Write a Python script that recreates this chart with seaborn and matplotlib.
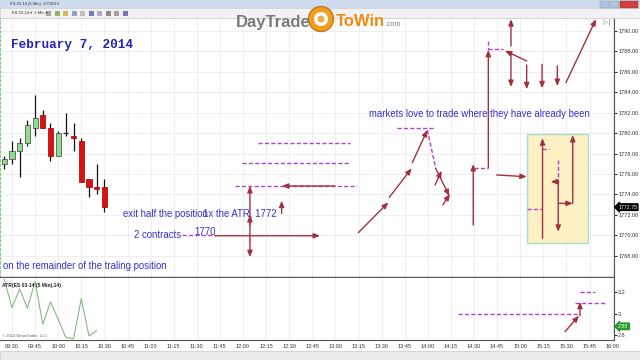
import matplotlib
matplotlib.use("Agg")
import matplotlib.pyplot as plt
import seaborn as sns
import pandas as pd
import numpy as np
from matplotlib.patches import Rectangle, Circle

# ---------------- data ----------------
bar_times = ["09:25", "09:30", "09:35", "09:40", "09:45", "09:50", "09:55",
             "10:00", "10:05", "10:10", "10:15", "10:20", "10:25", "10:30"]
opens  = [1777.0, 1777.5, 1778.25, 1779.0, 1780.5, 1781.75, 1780.5,
          1777.75, 1780.0, 1779.75, 1779.25, 1775.5, 1774.75, 1774.75]
highs  = [1777.75, 1779.25, 1779.5, 1781.25, 1783.75, 1782.25, 1781.0,
          1780.25, 1782.0, 1781.0, 1779.5, 1775.5, 1777.0, 1775.5]
lows   = [1776.5, 1777.0, 1775.75, 1778.75, 1779.75, 1780.5, 1777.25,
          1777.75, 1779.75, 1778.25, 1775.25, 1773.75, 1774.0, 1772.25]
closes = [1777.5, 1778.25, 1779.0, 1780.75, 1781.5, 1780.5, 1777.75,
          1780.0, 1780.0, 1779.5, 1775.25, 1774.75, 1774.5, 1772.75]

atr_times = bar_times[:13]
atr_values = [3.32, 3.055, 3.23, 3.05, 3.30, 2.90, 3.11, 2.945, 2.775, 2.765, 3.14, 2.79, 2.84]
atr_last = 2.88
last_price = 1772.75

time_labels = ["09:30", "09:45", "10:00", "10:15", "10:30", "10:45", "11:00", "11:15",
               "11:30", "11:45", "12:00", "12:15", "12:30", "12:45", "13:00", "13:15",
               "13:30", "13:45", "14:00", "14:15", "14:30", "14:45", "15:00", "15:15",
               "15:30", "15:45", "16:00"]
price_ticks = [1768, 1770, 1772, 1774, 1776, 1778, 1780, 1782, 1784, 1786, 1788, 1790]
atr_ticks = [2.8, 3.0, 3.2]

# annotation drawings (minutes after 09:30, price)
dash_lines = [  # (t1, p1, t2, p2)
    (159.9, 1779.0, 219.5, 1779.0),
    (149.5, 1777.1, 219.5, 1777.1),
    (144.8, 1774.8, 224.0, 1774.8),
    (110.2, 1770.0, 131.8, 1770.0),
    (249.8, 1780.5, 274.2, 1780.5),
    (269.7, 1780.3, 275.3, 1776.45),
    (300.0, 1776.6, 309.3, 1776.6),
    (309.3, 1789.05, 309.3, 1788.15),
    (309.1, 1788.24, 319.0, 1788.24),
    (334.2, 1772.57, 344.2, 1772.57),
    (344.2, 1778.44, 348.9, 1778.44),
    (354.7, 1777.37, 354.7, 1775.24),
]
arrows = [  # (t_from, p_from, t_to, p_to)
    (154.5, 1769.5, 154.5, 1774.82),
    (154.5, 1769.5, 154.5, 1767.86),
    (154.5, 1771.0, 154.5, 1771.98),
    (209.7, 1774.82, 175.3, 1774.82),
    (175.1, 1772.14, 175.1, 1773.38),
    (131.8, 1769.95, 200.0, 1769.95),
    (224.9, 1770.25, 244.4, 1773.22),
    (245.0, 1773.71, 259.5, 1776.55),
    (259.9, 1777.1, 269.7, 1780.3),
    (275.3, 1776.48, 284.0, 1773.84),
    (274.7, 1774.92, 279.0, 1776.32),
    (279.7, 1772.96, 284.4, 1774.04),
    (299.5, 1771.0, 299.5, 1776.97),
    (309.3, 1776.61, 309.3, 1788.14),
    (334.2, 1787.06, 320.1, 1788.07),
    (324.0, 1788.53, 324.0, 1791.15),
    (324.0, 1787.75, 324.0, 1784.52),
    (334.2, 1786.67, 334.2, 1784.29),
    (344.2, 1786.74, 344.2, 1784.39),
    (354.1, 1786.57, 354.1, 1784.61),
    (359.7, 1784.94, 379.2, 1791.15),
    (314.7, 1775.9, 334.2, 1775.73),
    (344.5, 1769.7, 344.5, 1779.49),
    (354.7, 1775.24, 349.8, 1775.24),
    (354.7, 1775.24, 354.7, 1770.34),
    (354.7, 1773.12, 364.1, 1773.12),
    (364.1, 1773.12, 364.1, 1779.81),
]
box = (334.2, 1769.21, 374.2, 1779.88)

atr_dash_lines = [
    (289.6, 3.0, 368.8, 3.0),
    (365.6, 3.10, 385.1, 3.10),
    (368.8, 3.20, 378.6, 3.20),
]
atr_arrows = [
    (359.1, 2.83, 368.2, 2.98),
    (368.8, 2.98, 368.8, 3.11),
]

texts = [  # (t, price, string)
    (72.1, 1772.08, "exit half the position"),
    (124.0, 1772.08, "1x the ATR, 1772"),
    (79.2, 1770.07, "2 contracts"),
    (118.2, 1770.27, "1770"),
    (-5.8, 1766.98, "on the remainder of the traling position"),
    (231.8, 1781.87, "markets love to trade where they have already been"),
]
title_text = "February 7, 2014"


def tmin(s):
    h, m = s.split(":")
    return (int(h) - 9) * 60 + int(m) - 30


# ---------------- figure ----------------
sns.set_style("white")
plt.rcParams["font.family"] = ["Liberation Sans", "DejaVu Sans"]

W, H = 640, 360
fig = plt.figure(figsize=(6.4, 3.6), dpi=100)
fig.patch.set_facecolor("white")

XL = (-7.79, 390.9)
ax = fig.add_axes([0, (H - 277) / H, 614 / W, (277 - 18) / H])
ax2 = fig.add_axes([0, (H - 340) / H, 614 / W, (340 - 278) / H])

maroon = "#a3303f"
purple = "#b044cc"
blue = "#3434c8"
ARROW = dict(arrowstyle="-|>,head_length=0.6,head_width=0.25",
             color=maroon, lw=1.0, shrinkA=0, shrinkB=0, mutation_scale=6)

# candles
df = pd.DataFrame({"t": [tmin(s) for s in bar_times], "o": opens, "h": highs,
                   "l": lows, "c": closes})
ax.vlines(df["t"], df["l"], df["h"], color="#111111", lw=0.9, zorder=3)
for _, r in df.iterrows():
    if r.c > r.o:
        fc = "#8fdc8f"
    elif r.c < r.o:
        fc = "#e01010"
    else:
        fc = "#555555"
    lo, hi = min(r.o, r.c), max(r.o, r.c)
    if hi - lo < 0.05:
        ax.hlines(lo, r.t - 1.6, r.t + 1.6, color="#333333", lw=1.0, zorder=4)
    else:
        ax.bar(r.t, hi - lo, bottom=lo, width=3.3, color=fc,
               edgecolor="#404040" if fc != "#e01010" else "#900000", lw=0.5, zorder=4)

# box
ax.add_patch(Rectangle((box[0], box[1]), box[2] - box[0], box[3] - box[1],
                       facecolor="#fcf0c4", edgecolor="#a8dcd0", lw=1.0, zorder=1))

for t1, p1, t2, p2 in dash_lines:
    ax.plot([t1, t2], [p1, p2], color=purple, lw=1.0, ls=(0, (3, 1.6)), zorder=5,
            clip_on=False)
for t1, p1, t2, p2 in arrows:
    ax.annotate("", xy=(t2, p2), xytext=(t1, p1), annotation_clip=False,
                arrowprops=ARROW, zorder=6)

for t, p, s in texts:
    ax.text(t, p, s, color=blue, fontsize=6.9, va="center", ha="left",
            family=["Liberation Sans", "DejaVu Sans"], zorder=7)
ax.text(-0.65, 1788.63, title_text, color="#2424b0", fontsize=9.2, fontweight="bold",
        family=["Liberation Mono", "DejaVu Sans Mono"], va="center", ha="left", zorder=7)

ax.set_xlim(*XL)
ax.set_ylim(1765.91, 1791.27)
ax.set_xticks([tmin(s) for s in time_labels])
ax.set_xticklabels([])
ax.set_yticks(price_ticks)
ax.set_yticklabels([f"{v:.2f}" for v in price_ticks])
ax.yaxis.tick_right()
ax.tick_params(axis="y", labelsize=4, length=2, pad=1, colors="#333333")
ax.tick_params(axis="x", length=0)
ax.grid(True, color="#ececec", lw=0.6)
ax.set_axisbelow(True)
ax.spines["top"].set_visible(False)
ax.spines["left"].set_color("#7fcf7f")
ax.spines["left"].set_linestyle((0, (2, 2)))
ax.spines["right"].set_color("#555555")
ax.spines["bottom"].set_color("#555555")
ax.spines["bottom"].set_linewidth(1.0)

ax.annotate(f"{last_price:.2f}", xy=(1.0, last_price), xycoords=("axes fraction", "data"),
            xytext=(3, 0), textcoords="offset points", fontsize=3.8, color="white",
            va="center", ha="left",
            bbox=dict(boxstyle="larrow,pad=0.15", fc="black", ec="black"))

# ATR panel
atr_df = pd.DataFrame({"t": [tmin(s) for s in atr_times], "atr": atr_values})
sns.lineplot(data=atr_df, x="t", y="atr", ax=ax2, color="#86b886", lw=0.8)
for t1, p1, t2, p2 in atr_dash_lines:
    ax2.plot([t1, t2], [p1, p2], color=purple, lw=1.0, ls=(0, (3, 1.6)), zorder=5)
for t1, p1, t2, p2 in atr_arrows:
    ax2.annotate("", xy=(t2, p2), xytext=(t1, p1), annotation_clip=False,
                 arrowprops=ARROW, zorder=6)
ax2.set_xlim(*XL)
ax2.set_ylim(2.752, 3.333)
ax2.set_xticks([tmin(s) for s in time_labels])
ax2.set_xticklabels(time_labels)
ax2.set_yticks(atr_ticks)
ax2.set_yticklabels(["2.8", "3", "3.2"])
ax2.yaxis.tick_right()
ax2.tick_params(axis="both", labelsize=4, length=2, pad=1, colors="#333333")
ax2.set_xlabel("")
ax2.set_ylabel("")
ax2.grid(True, axis="x", color="#ececec", lw=0.6)
ax2.spines["top"].set_visible(False)
ax2.spines["left"].set_visible(False)
ax2.spines["right"].set_color("#555555")
ax2.spines["bottom"].set_color("#555555")
ax2.text(0.003, 0.88, "ATR(ES 03-14 (5 Min),14)", transform=ax2.transAxes, fontsize=3.6,
         color="#222222", fontweight="bold", va="center")
ax2.text(0.003, 0.04, "\u00a9 2014 NinjaTrader, LLC", transform=ax2.transAxes, fontsize=3,
         color="#666666", va="bottom")
ax2.annotate(f"{atr_last:.2f}", xy=(1.0, atr_last), xycoords=("axes fraction", "data"),
             xytext=(3, 0), textcoords="offset points", fontsize=3.8, color="white",
             va="center", ha="left",
             bbox=dict(boxstyle="larrow,pad=0.15", fc="#2a9a2a", ec="#2a9a2a"))

# overlay for window chrome and logo
ov = fig.add_axes([0, 0, 1, 1], zorder=10)
ov.set_xlim(0, W)
ov.set_ylim(H, 0)
ov.axis("off")
ov.patch.set_alpha(0)
ov.add_patch(Rectangle((0, 0), W, 8, facecolor="#cfdcee", edgecolor="none"))
ov.add_patch(Rectangle((0, 8), W, 10, facecolor="#f2f2f2", edgecolor="#c8c8c8", lw=0.5))
ov.text(10, 4, "ES 03-14 (5 Min)  2/7/2014", fontsize=3, color="#333333", va="center")
ov.text(12, 13, "ES 03-14 \u25be  5 Min \u25be", fontsize=3, color="#333333", va="center")
for i, c in enumerate(["#888888", "#6a9a3a", "#d0a020", "#6080c0", "#aaaaaa",
                       "#3050a0", "#9090c0", "#606060", "#808080", "#4040a0"]):
    ov.add_patch(Rectangle((46 + i * 8.5, 10.5), 5, 5, facecolor=c, edgecolor="none",
                           alpha=0.7))
ov.add_patch(Rectangle((600, 0.5), 9, 7, facecolor="#b0c4e0", edgecolor="#8090a0", lw=0.3))
ov.add_patch(Rectangle((610, 0.5), 9, 7, facecolor="#b0c4e0", edgecolor="#8090a0", lw=0.3))
ov.add_patch(Rectangle((620, 0.5), 18, 7, facecolor="#d04040", edgecolor="#903030", lw=0.3))
ov.add_patch(Rectangle((0, 351), W, 9, facecolor="#ececec", edgecolor="#c8c8c8", lw=0.5))
ov.text(607, 22, "\u25b7|", fontsize=5, color="#888888", va="center", ha="center")
# logo
ov.text(311, 22, "DayTrade", fontsize=12, fontweight="bold", color="#7a7a7a",
        ha="right", va="center")
ov.add_patch(Circle((321, 19), 12.5, facecolor="#f0a020", edgecolor="#c07818", lw=1))
ov.add_patch(Circle((321, 19), 7, facecolor="white", edgecolor="none"))
ov.add_patch(Circle((321, 19), 3.5, facecolor="#f0b040", edgecolor="none"))
ov.text(336, 22, "ToWin", fontsize=12, fontweight="bold", color="#f08a10",
        ha="left", va="center")
ov.text(385, 25, ".com", fontsize=5, color="#7a7a7a", ha="left", va="center")

fig.savefig("out.png", dpi=100)
